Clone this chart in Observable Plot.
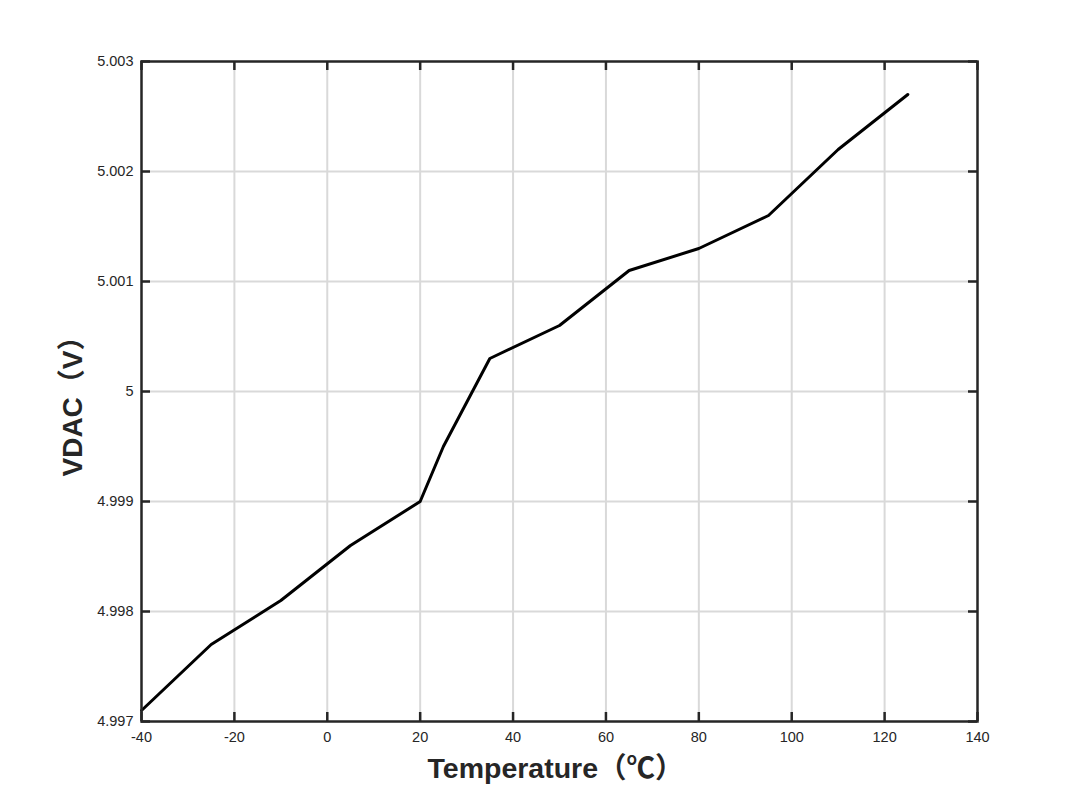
<!DOCTYPE html>
<html>
<head>
<meta charset="utf-8">
<script src="https://cdn.jsdelivr.net/npm/d3@7"></script>
<script src="https://cdn.jsdelivr.net/npm/@observablehq/plot@0.6"></script>
<style>
  html, body { margin: 0; padding: 0; background: #fff; }
  svg { display: block; }
</style>
</head>
<body>
<div id="chart"></div>
<script>
const temperature = [-40, -25, -10, 5, 20, 25, 35, 50, 65, 80, 95, 110, 125];
const vdac = [4.9971, 4.9977, 4.9981, 4.9986, 4.9990, 4.9995, 5.0003, 5.0006, 5.0011, 5.0013, 5.0016, 5.0022, 5.0027];
const xTicks = [-40, -20, 0, 20, 40, 60, 80, 100, 120, 140];
const yTicks = [4.997, 4.998, 4.999, 5.000, 5.001, 5.002, 5.003];
const yTickLabels = ["4.997", "4.998", "4.999", "5", "5.001", "5.002", "5.003"];
const xTitle = "Temperature（℃）";
const yTitle = "VDAC（V）";

const data = temperature.map((t, i) => ({t, v: vdac[i]}));

const W = 1080, H = 810;
const mL = 141, mR = 103, mT = 61, mB = 89;
const fw = W - mL - mR, fh = H - mT - mB;
const tick = 9;
const ink = "#262626";
const font = "'Liberation Sans', Arial, 'Noto Sans CJK SC', sans-serif";

const chart = Plot.plot({
  width: W, height: H,
  marginLeft: mL, marginRight: mR, marginTop: mT, marginBottom: mB,
  style: {fontFamily: font, color: ink, background: "#fff"},
  x: {domain: [-40, 140], ticks: xTicks},
  y: {domain: [4.997, 5.003], ticks: yTicks},
  marks: [
    Plot.gridX(xTicks.slice(1, -1), {stroke: "#d9d9d9", strokeOpacity: 1, strokeWidth: 2}),
    Plot.gridY(yTicks.slice(1, -1), {stroke: "#d9d9d9", strokeOpacity: 1, strokeWidth: 2}),
    // inward ticks
    Plot.ruleX(xTicks, {insetTop: fh - tick, stroke: ink, strokeWidth: 2.5}),
    Plot.ruleX(xTicks, {insetBottom: fh - tick, stroke: ink, strokeWidth: 2.5}),
    Plot.ruleY(yTicks, {insetRight: fw - tick, stroke: ink, strokeWidth: 2.5}),
    Plot.ruleY(yTicks, {insetLeft: fw - tick, stroke: ink, strokeWidth: 2.5}),
    Plot.axisX(xTicks, {tickSize: 0, tickPadding: 10, fontSize: 14.5, label: null, fill: ink,
      tickFormat: (d) => String(d)}),
    Plot.axisY(yTicks, {tickSize: 0, tickPadding: 8, fontSize: 14.5, label: null, fill: ink,
      tickFormat: (d) => yTickLabels[yTicks.indexOf(d)]}),
    Plot.line(data, {x: "t", y: "v", stroke: "#000", strokeWidth: 3, strokeLinejoin: "round"}),
    Plot.frame({stroke: ink, strokeWidth: 2.5}),
    Plot.text([xTitle], {frameAnchor: "bottom", textAnchor: "middle", lineAnchor: "middle", dy: 47, dx: -4, fontSize: 28.5, fontWeight: "bold", fill: ink}),
    Plot.text([yTitle], {frameAnchor: "left", textAnchor: "middle", lineAnchor: "middle", dx: -68, dy: 8, rotate: -90, fontSize: 28, fontWeight: "bold", fill: ink})
  ]
});
document.getElementById("chart").appendChild(chart);
</script>
</body>
</html>
